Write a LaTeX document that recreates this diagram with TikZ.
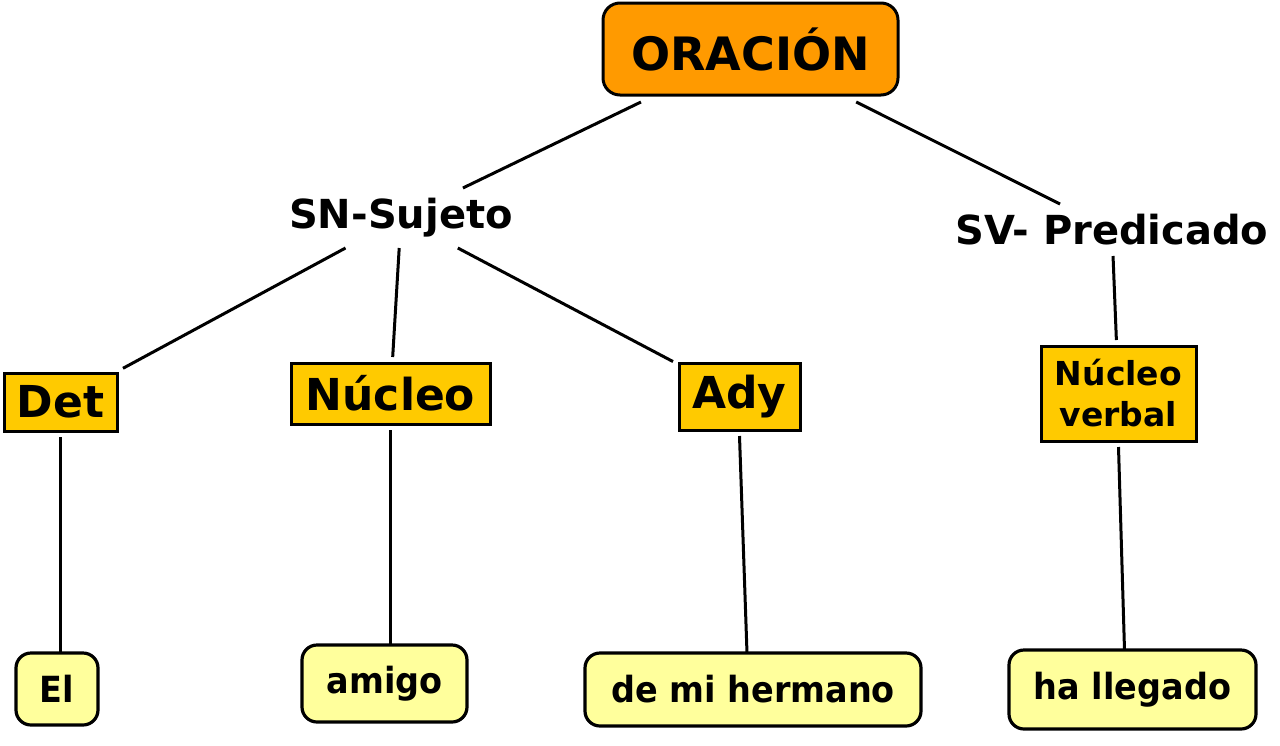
\documentclass[tikz,border=0pt]{standalone}
\usepackage{fontspec}
\setmainfont{DejaVu Sans}
\newfontfamily\condfont{DejaVu Sans}[FakeStretch=0.93]
\definecolor{orac}{HTML}{FF9A00}
\definecolor{gold}{HTML}{FFCA00}
\definecolor{pale}{HTML}{FFFF9C}
\tikzset{
  top/.style={draw=black, line width=3pt, fill=orac, rounded corners=17pt,
    inner sep=0pt, outer sep=7pt, font=\fontsize{46}{50}\selectfont\bfseries},
  plain/.style={inner sep=0pt, outer sep=0pt, font=\fontsize{40}{44}\selectfont\bfseries},
  box/.style={draw=black, line width=3pt, fill=gold, inner sep=0pt, outer sep=6pt,
    font=\fontsize{44}{48}\selectfont\bfseries},
  word/.style={draw=black, line width=3.2pt, fill=pale, rounded corners=15pt, inner sep=0pt,
    outer sep=0pt, font=\condfont\fontsize{36}{40}\selectfont\bfseries},
  link/.style={line width=3pt, draw=black}
}
\begin{document}
\begin{tikzpicture}[x=1pt,y=-1pt]
\useasboundingbox[fill=white] (0,0) rectangle (1280,745);
% top
\node[top, minimum width=295pt, minimum height=92pt] (orac) at (750.5,49) {ORACIÓN};
% phrases
\node[plain, minimum width=260pt, minimum height=60pt] (sn) at (401,218) {\raisebox{-3pt}{SN-Sujeto}};
\node[plain, minimum width=330pt, minimum height=52pt] (sv) at (1112,230) {\raisebox{-1pt}{SV- Predicado}};
% categories
\node[box, minimum width=113pt, minimum height=58pt] (det) at (60.5,402) {Det};
\node[box, minimum width=199pt, minimum height=61pt] (nuc) at (390.5,393.5) {Núcleo};
\node[box, minimum width=121pt, minimum height=67pt] (ady) at (739.5,396.5) {Ady};
\node[box, minimum width=155pt, minimum height=95pt, align=center,
  font=\fontsize{33}{41}\selectfont\bfseries] (nv) at (1118.5,393.5) {Núcleo\\verbal};
% words
\node[word, minimum width=82pt, minimum height=72pt] (el) at (57,689) {El};
\node[word, minimum width=165pt, minimum height=77pt] (amigo) at (384.5,683.5) {amigo};
\node[word, minimum width=336pt, minimum height=73pt] (dmh) at (753,689.5) {de mi hermano};
\node[word, minimum width=247pt, minimum height=79pt] (hl) at (1132.5,689.5) {ha llegado};
% connectors
\draw[link] (orac) -- (sn);
\draw[link] (orac) -- (sv);
\draw[link] (sn) -- (det);
\draw[link] (sn) -- (nuc);
\draw[link] (sn) -- (ady);
\draw[link] (sv) -- (nv);
\draw[link] (det.south) -- (det.south |- el.north);
\draw[link] (nuc.south) -- (nuc.south |- amigo.north);
\draw[link] (ady.south) -- ([xshift=-6pt]dmh.north);
\draw[link] (nv.south) -- ([xshift=-8pt]hl.north);
\end{tikzpicture}
\end{document}
